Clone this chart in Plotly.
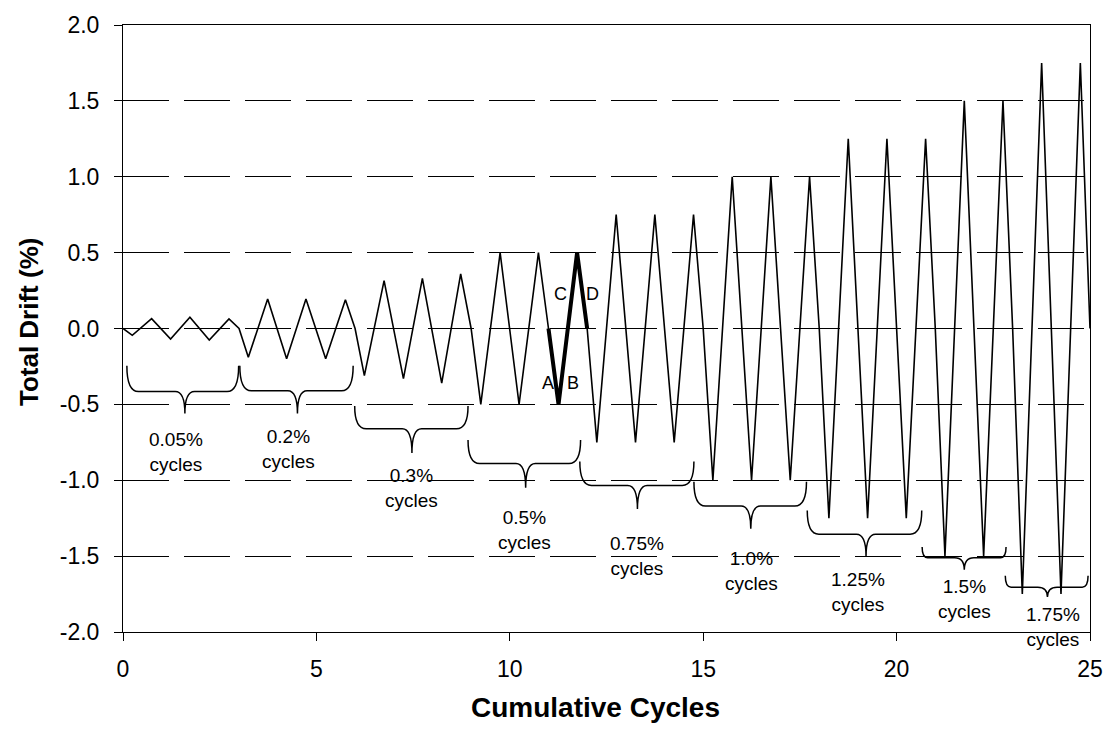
import plotly.graph_objects as go

# ---- data ----
drift_x = [0.0, 0.24, 0.74, 1.23, 1.73, 2.23, 2.74, 3.0,
           3.24, 3.74, 4.23, 4.73, 5.24, 5.75, 6.0,
           6.24, 6.75, 7.25, 7.74, 8.24, 8.73, 9.0,
           9.25, 9.75, 10.24, 10.74, 11.0, 11.26, 11.74, 12.0,
           12.25, 12.75, 13.25, 13.75, 14.25, 14.75, 15.0,
           15.25, 15.75, 16.25, 16.75, 17.25, 17.75, 18.0,
           18.25, 18.75, 19.25, 19.75, 20.25, 20.75, 21.0,
           21.25, 21.75, 22.25, 22.75, 23.0,
           23.25, 23.75, 24.25, 24.75, 25.0]
drift_y = [0.0, -0.045, 0.065, -0.07, 0.074, -0.076, 0.063, 0.0,
           -0.19, 0.195, -0.2, 0.195, -0.2, 0.19, 0.0,
           -0.31, 0.315, -0.33, 0.33, -0.36, 0.36, 0.0,
           -0.5, 0.5, -0.5, 0.5, 0.0, -0.5, 0.5, 0.0,
           -0.75, 0.75, -0.75, 0.75, -0.75, 0.75, 0.0,
           -1.0, 1.0, -1.0, 1.0, -1.0, 1.0, 0.0,
           -1.25, 1.25, -1.25, 1.25, -1.25, 1.25, 0.0,
           -1.5, 1.5, -1.5, 1.5, 0.0,
           -1.75, 1.75, -1.75, 1.75, 0.0]

bold_start = 11.0
bold_end = 12.0

point_labels = ["A", "B", "C", "D"]
point_label_x = [10.99, 11.64, 11.32, 12.15]
point_label_y = [-0.36, -0.36, 0.23, 0.23]

group_labels = ["0.05%", "0.2%", "0.3%", "0.5%", "0.75%", "1.0%", "1.25%", "1.5%", "1.75%"]
group_label_x = [1.38, 4.27, 7.47, 10.39, 13.28, 16.25, 19.01, 21.75, 24.05]
group_label_y = [-0.815, -0.795, -1.053, -1.33, -1.496, -1.595, -1.734, -1.78, -1.965]

brace_x0 = [0.10, 3.02, 5.99, 8.92, 11.81, 14.76, 17.69, 20.66, 22.81]
brace_x1 = [2.99, 5.95, 8.92, 11.83, 14.76, 17.67, 20.65, 22.83, 24.95]
brace_top = [-0.245, -0.245, -0.51, -0.735, -0.877, -1.01, -1.2, -1.44, -1.63]
brace_bar = [-0.415, -0.41, -0.66, -0.89, -1.034, -1.17, -1.356, -1.51, -1.705]
brace_tip_x = [1.60, 4.51, 7.47, 10.41, 13.30, 16.23, 19.21, 21.75, 23.90]
brace_tip_y = [-0.56, -0.56, -0.82, -1.05, -1.19, -1.32, -1.50, -1.59, -1.77]

y_ticks = [-2.0, -1.5, -1.0, -0.5, 0.0, 0.5, 1.0, 1.5, 2.0]
x_ticks = [0, 5, 10, 15, 20, 25]

FONT = "Liberation Sans, Arial, sans-serif"

fig = go.Figure()
fig.add_trace(go.Scatter(x=drift_x, y=drift_y, mode="lines",
                         line=dict(color="black", width=1.6),
                         showlegend=False, hoverinfo="skip"))

bx = [x for x in drift_x if bold_start <= x <= bold_end]
by = [y for x, y in zip(drift_x, drift_y) if bold_start <= x <= bold_end]
fig.add_trace(go.Scatter(x=bx, y=by, mode="lines",
                         line=dict(color="black", width=4),
                         showlegend=False, hoverinfo="skip"))

# braces
for x0, x1, yt, yb, xm, ym in zip(brace_x0, brace_x1, brace_top, brace_bar,
                                  brace_tip_x, brace_tip_y):
    c = min(0.3, 2 * (yt - yb))
    t = 0.25
    path = (f"M {x0},{yt} Q {x0},{yb} {x0 + c},{yb} "
            f"L {xm - t},{yb} Q {xm},{yb} {xm},{ym} "
            f"Q {xm},{yb} {xm + t},{yb} "
            f"L {x1 - c},{yb} Q {x1},{yb} {x1},{yt}")
    fig.add_shape(type="path", path=path, xref="x", yref="y",
                  line=dict(color="black", width=1.5))

for txt, x, y in zip(group_labels, group_label_x, group_label_y):
    fig.add_annotation(x=x, y=y, xref="x", yref="y", text=f"{txt}<br>cycles",
                       showarrow=False, font=dict(family=FONT, size=19, color="black"),
                       xanchor="center", yanchor="middle")

for txt, x, y in zip(point_labels, point_label_x, point_label_y):
    fig.add_annotation(x=x, y=y, xref="x", yref="y", text=txt,
                       showarrow=False, font=dict(family=FONT, size=18, color="black"),
                       xanchor="center", yanchor="middle")

# axis titles
fig.add_annotation(x=-0.0972, y=0.5106, xref="paper", yref="paper",
                   text="<b>Total Drift (%)</b>", textangle=-90, showarrow=False,
                   font=dict(family=FONT, size=26, color="black"),
                   xanchor="center", yanchor="middle")
fig.add_annotation(x=0.489, y=-0.124, xref="paper", yref="paper",
                   text="<b>Cumulative Cycles</b>", showarrow=False,
                   font=dict(family=FONT, size=28, color="black"),
                   xanchor="center", yanchor="middle")

fig.update_xaxes(range=[0, 25], tickvals=x_ticks, ticktext=[str(v) for v in x_ticks],
                 showgrid=False, zeroline=False,
                 showline=True, linecolor="black", linewidth=1, mirror=True,
                 ticks="outside", ticklen=8, tickcolor="black", tickwidth=1,
                 tickfont=dict(family=FONT, size=23, color="black"),
                 ticklabelstandoff=8)
fig.update_yaxes(range=[-2, 2], tickvals=y_ticks, ticktext=[f"{v:.1f}" for v in y_ticks],
                 showgrid=True, gridcolor="black", gridwidth=1, griddash="46px,15px",
                 zeroline=False,
                 showline=True, linecolor="black", linewidth=1, mirror=True,
                 ticks="outside", ticklen=8, tickcolor="black", tickwidth=1,
                 tickfont=dict(family=FONT, size=23, color="black"),
                 ticklabelstandoff=10)

fig.update_layout(width=1117, height=738,
                  margin=dict(l=123, r=27, t=19, b=106),
                  plot_bgcolor="white", paper_bgcolor="white",
                  font=dict(family=FONT, color="black"))

fig.write_html("out.html", config={"displayModeBar": False},
               post_script="document.body.style.margin='0';")
